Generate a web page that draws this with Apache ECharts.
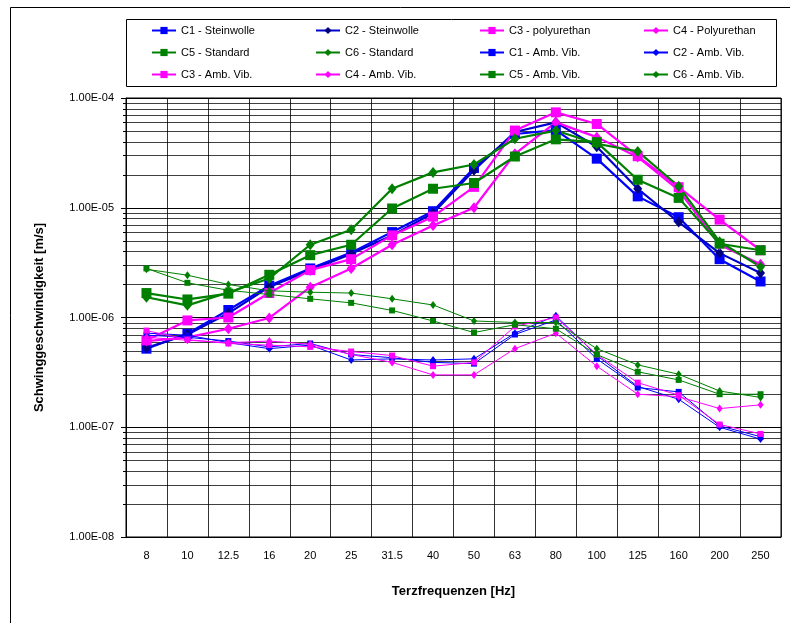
<!DOCTYPE html>
<html>
<head>
<meta charset="utf-8">
<script src="https://cdn.jsdelivr.net/npm/echarts@6/dist/echarts.min.js"></script>
<style>html,body{margin:0;padding:0;background:#fff;}#chart{width:790px;height:623px;}</style>
</head>
<body>
<div id="chart"></div>
<script>
const categories = ['8','10','12.5','16','20','25','31.5','40','50','63','80','100','125','160','200','250'];
const yTickLabels = ['1.00E-08','1.00E-07','1.00E-06','1.00E-05','1.00E-04'];

const c1Stein = [5.2e-7,7.1e-7,1.17e-6,1.95e-6,2.8e-6,3.9e-6,6.0e-6,9.3e-6,2.3e-5,4.7e-5,5.1e-5,2.8e-5,1.27e-5,8.2e-6,3.4e-6,2.13e-6];
const c2Stein = [5.3e-7,7.0e-7,1.09e-6,1.9e-6,2.7e-6,3.8e-6,5.6e-6,8.9e-6,2.2e-5,4.9e-5,6.0e-5,3.6e-5,1.49e-5,7.4e-6,3.86e-6,2.54e-6];
const c3Poly = [6.2e-7,9.4e-7,1.0e-6,1.67e-6,2.7e-6,3.4e-6,5.6e-6,8.3e-6,1.55e-5,5.05e-5,7.4e-5,5.8e-5,2.95e-5,1.54e-5,7.8e-6,4.1e-6];
const c4Poly = [6.1e-7,6.6e-7,7.9e-7,9.9e-7,1.89e-6,2.8e-6,4.6e-6,6.9e-6,1.0e-5,3.1e-5,6.0e-5,4.4e-5,2.9e-5,1.45e-5,4.6e-6,3.05e-6];
const c5Std = [1.67e-6,1.46e-6,1.65e-6,2.45e-6,3.7e-6,4.6e-6,9.85e-6,1.49e-5,1.68e-5,2.93e-5,4.2e-5,3.96e-5,1.8e-5,1.23e-5,4.7e-6,4.1e-6];
const c6Std = [1.53e-6,1.29e-6,1.69e-6,2.27e-6,4.6e-6,6.3e-6,1.49e-5,2.1e-5,2.48e-5,4.25e-5,5.05e-5,3.83e-5,3.26e-5,1.57e-5,4.9e-6,2.9e-6];
const c1Amb = [6.9e-7,6.6e-7,6.1e-7,5.4e-7,5.8e-7,4.6e-7,4.3e-7,3.9e-7,3.8e-7,7.0e-7,9.5e-7,4.2e-7,2.3e-7,2.1e-7,1.03e-7,8.2e-8];
const c2Amb = [7.2e-7,6.9e-7,5.9e-7,5.2e-7,5.6e-7,4.1e-7,4.2e-7,4.1e-7,4.2e-7,7.2e-7,1.04e-6,4.5e-7,2.35e-7,1.8e-7,1.0e-7,7.8e-8];
const c3Amb = [7.6e-7,6.3e-7,5.8e-7,5.6e-7,5.4e-7,4.9e-7,4.5e-7,3.6e-7,3.9e-7,8.3e-7,1.0e-6,4.6e-7,2.55e-7,1.96e-7,1.06e-7,8.7e-8];
const c4Amb = [6.6e-7,6.2e-7,5.9e-7,6.1e-7,5.7e-7,4.6e-7,3.9e-7,3.0e-7,3.0e-7,5.2e-7,7.2e-7,3.6e-7,2.0e-7,1.9e-7,1.48e-7,1.6e-7];
const c5Amb = [2.8e-6,2.07e-6,1.77e-6,1.62e-6,1.48e-6,1.36e-6,1.16e-6,9.3e-7,7.3e-7,8.6e-7,7.9e-7,4.6e-7,3.2e-7,2.7e-7,2.0e-7,2.0e-7];
const c6Amb = [2.75e-6,2.43e-6,2.0e-6,1.75e-6,1.7e-6,1.67e-6,1.48e-6,1.3e-6,9.3e-7,9.0e-7,9.0e-7,5.2e-7,3.7e-7,3.04e-7,2.14e-7,1.87e-7];

const seriesNames = ['C1 - Steinwolle','C2 - Steinwolle','C3 - polyurethan','C4 - Polyurethan',
  'C5 - Standard','C6 - Standard','C1 - Amb. Vib.','C2 - Amb. Vib.',
  'C3 - Amb. Vib.','C4 - Amb. Vib.','C5 - Amb. Vib.','C6 - Amb. Vib.'];
const seriesData = [c1Stein,c2Stein,c3Poly,c4Poly,c5Std,c6Std,c1Amb,c2Amb,c3Amb,c4Amb,c5Amb,c6Amb];

const BLUE='#0000ff', NAVY='#000080', MAG='#ff00ff', GREEN='#008000';
const styles = [
  {line:BLUE, mark:BLUE, sym:'rect', thick:true},
  {line:'#0000cc', mark:NAVY, sym:'diamond', thick:true},
  {line:MAG, mark:MAG, sym:'rect', thick:true},
  {line:MAG, mark:MAG, sym:'diamond', thick:true},
  {line:GREEN, mark:GREEN, sym:'rect', thick:true},
  {line:GREEN, mark:GREEN, sym:'diamond', thick:true},
  {line:BLUE, mark:BLUE, sym:'rect', thick:false},
  {line:BLUE, mark:BLUE, sym:'diamond', thick:false},
  {line:MAG, mark:MAG, sym:'rect', thick:false},
  {line:MAG, mark:MAG, sym:'diamond', thick:false},
  {line:GREEN, mark:GREEN, sym:'rect', thick:false},
  {line:GREEN, mark:GREEN, sym:'diamond', thick:false}
];

const series = seriesNames.map((name, i) => {
  const s = styles[i];
  return {
    name: name,
    type: 'line',
    data: seriesData[i],
    symbol: s.sym,
    symbolSize: s.thick ? (s.sym === 'rect' ? 10 : [9, 11]) : (s.sym === 'rect' ? 6 : [6, 8]),
    lineStyle: {color: s.line, width: s.thick ? 2.2 : 1},
    itemStyle: {color: s.mark, borderWidth: 0},
    emphasis: {disabled: true},
    z: s.thick ? 3 : 4,
    animation: false
  };
});

const legends = seriesNames.map((name, i) => ({
  data: [name],
  top: 25 + Math.floor(i / 4) * 22,
  left: 151 + (i % 4) * 164,
  padding: 0,
  itemWidth: 24, itemHeight: 9,
  textStyle: {fontFamily: 'Liberation Sans', fontSize: 11, color: '#000'},
  selectedMode: false
}));

const GRID_L = 126, GRID_R = 9, GRID_T = 98, GRID_B = 86;
const chart = echarts.init(document.getElementById('chart'), null, {renderer: 'canvas'});
const baseGraphics = [
  {type: 'rect', shape: {x: 10.5, y: 7.5, width: 900, height: 900}, style: {fill: 'none', stroke: '#000', lineWidth: 1}, z: 0},
  {type: 'rect', shape: {x: 126.5, y: 19.5, width: 650, height: 67}, style: {fill: '#fff', stroke: '#000', lineWidth: 1}, z: 0}
];
chart.setOption({
  backgroundColor: '#fff',
  animation: false,
  graphic: baseGraphics,
  legend: legends,
  grid: {left: GRID_L, top: GRID_T, right: GRID_R, bottom: GRID_B, show: true, borderColor: '#000', borderWidth: 1, backgroundColor: 'transparent'},
  xAxis: {
    type: 'category', data: categories, boundaryGap: true,
    axisLine: {lineStyle: {color: '#000'}},
    axisTick: {show: false},
    axisLabel: {fontFamily: 'Liberation Sans', fontSize: 11, color: '#000', margin: 13, interval: 0},
    splitLine: {show: true, interval: 0, lineStyle: {color: '#000', width: 1, opacity: 0.8}},
    name: 'Terzfrequenzen [Hz]', nameLocation: 'middle', nameGap: 48,
    nameTextStyle: {fontFamily: 'Liberation Sans', fontSize: 13, fontWeight: 'bold', color: '#000'}
  },
  yAxis: {
    type: 'log', logBase: 10, min: 1e-8, max: 1e-4,
    axisLine: {show: true, lineStyle: {color: '#000'}},
    axisTick: {show: true, length: 5, lineStyle: {color: '#000'}},
    axisLabel: {
      fontFamily: 'Liberation Sans', fontSize: 11, color: '#000', margin: 12,
      formatter: v => yTickLabels[Math.round(Math.log10(v)) + 8]
    },
    splitLine: {show: true, lineStyle: {color: '#000', width: 1}},
    name: 'Schwinggeschwindigkeit [m/s]', nameLocation: 'middle', nameGap: 80,
    nameTextStyle: {fontFamily: 'Liberation Sans', fontSize: 13, fontWeight: 'bold', color: '#000'}
  },
  series: series
});

// minor gridlines (2..9 x each decade), positioned through the axis scale
const minorLines = [];
for (let d = -8; d < -4; d++) {
  for (let k = 2; k <= 9; k++) {
    const y = Math.round(chart.convertToPixel({yAxisIndex: 0}, k * Math.pow(10, d))) + 0.5;
    minorLines.push({
      type: 'line', silent: true, z: 1,
      shape: {x1: GRID_L, y1: y, x2: 790 - GRID_R, y2: y},
      style: {stroke: '#000', lineWidth: 1, opacity: 0.75}
    });
    minorLines.push({
      type: 'line', silent: true, z: 1,
      shape: {x1: GRID_L - 3, y1: y, x2: GRID_L, y2: y},
      style: {stroke: '#000', lineWidth: 1}
    });
  }
}
chart.setOption({graphic: baseGraphics.concat(minorLines)}, {replaceMerge: ['graphic']});
</script>
</body>
</html>
